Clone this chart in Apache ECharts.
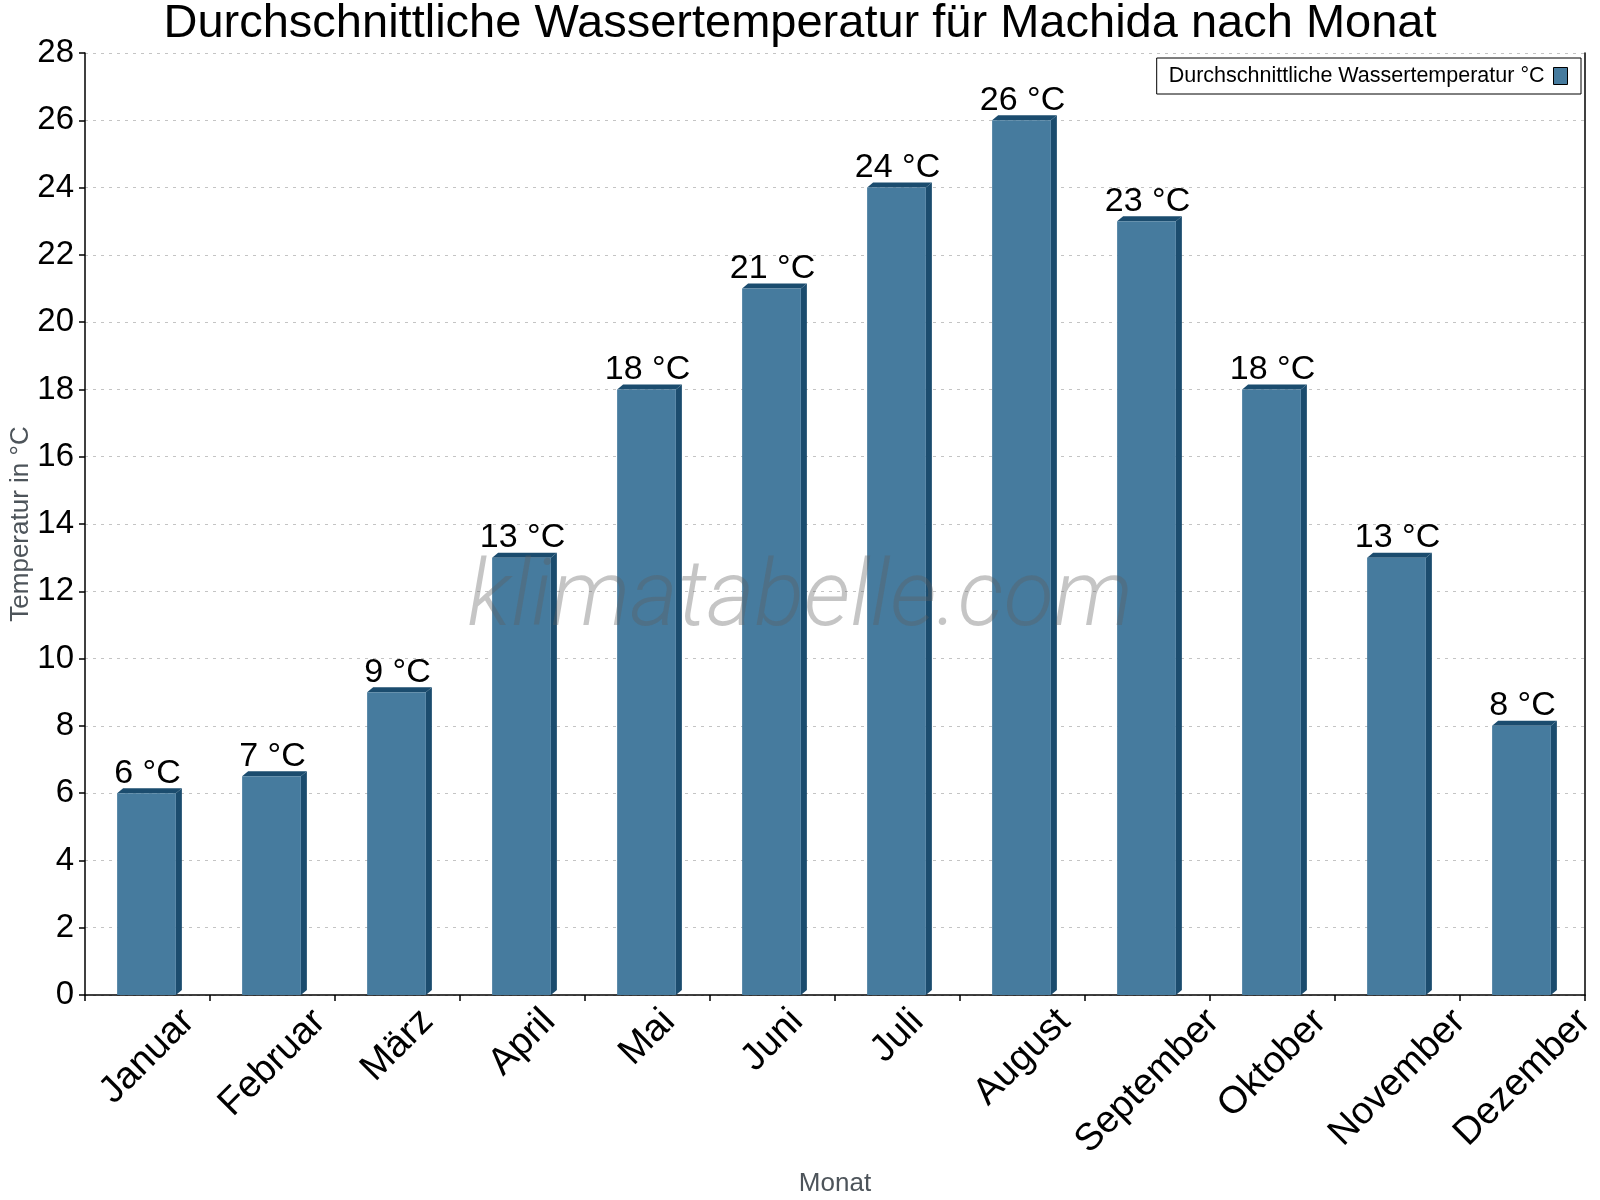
<!DOCTYPE html>
<html>
<head>
<meta charset="utf-8">
<script src="https://cdn.jsdelivr.net/npm/echarts@6/dist/echarts.min.js"></script>
<style>
  html, body { margin: 0; padding: 0; background: #fff; }
  #chart { width: 1600px; height: 1200px; }
</style>
</head>
<body>
<div id="chart"></div>
<script>
// ---------------- Daten ----------------
const months = ['Januar', 'Februar', 'März', 'April', 'Mai', 'Juni', 'Juli', 'August', 'September', 'Oktober', 'November', 'Dezember'];
const waterTemp = [6, 6.5, 9, 13, 18, 21, 24, 26, 23, 18, 13, 8];
const yTicks = { min: 0, max: 28, interval: 2 };

const seriesName = 'Durchschnittliche Wassertemperatur °C';
const frontColor = '#467b9e';
const darkColor = '#1b4c6e';
const labelFont = "'Liberation Sans', Arial, sans-serif";

// schräge Monatsbeschriftung: Mitte unter der Kategorie, Oberkante auf gleicher Höhe
const xLabelSize = 38;
const measureCtx = document.createElement('canvas').getContext('2d');
measureCtx.font = xLabelSize + "px 'Liberation Sans'";
const xLabelRich = {};
months.forEach((m, i) => {
  const w = measureCtx.measureText(m).width;
  const d = 0.707 * (w + xLabelSize * 0.72) / 2 + 1;   // Abstand Anker -> Textmitte
  const p = Math.round(1.414 * d);
  xLabelRich['l' + i] = {
    fontSize: xLabelSize,
    fontFamily: labelFont,
    color: '#000',
    padding: [p, p, 0, 0]
  };
});

const chart = echarts.init(document.getElementById('chart'));

function renderBar(params, api) {
  const idx = api.value(0);
  const val = api.value(1);
  const top = api.coord([idx, val]);
  const base = api.coord([idx, 0]);
  const bw = api.size([1, 0])[0] * 0.47;
  const dx = 6, dy = 5;
  const x0 = top[0] - bw / 2 - 1;
  const x1 = x0 + bw;
  const y0 = top[1];
  const yb = base[1];
  return {
    type: 'group',
    children: [
      {
        type: 'polygon',
        shape: { points: [[x0, y0], [x0 + dx, y0 - dy], [x1 + dx, y0 - dy], [x1, y0]] },
        style: { fill: darkColor }
      },
      {
        type: 'polygon',
        shape: { points: [[x1, y0], [x1 + dx, y0 - dy], [x1 + dx, yb - dy], [x1, yb]] },
        style: { fill: darkColor }
      },
      {
        type: 'rect',
        shape: { x: x0, y: y0, width: bw, height: yb - y0 },
        style: { fill: frontColor }
      },
      {
        type: 'text',
        x: top[0],
        y: y0 - dy + 2,
        style: {
          text: Math.round(val) + ' °C',
          font: "34px 'Liberation Sans', Arial, sans-serif",
          fill: '#000',
          align: 'center',
          verticalAlign: 'bottom'
        }
      }
    ]
  };
}

const option = {
  backgroundColor: '#fff',
  animation: false,
  title: {
    text: 'Durchschnittliche Wassertemperatur für Machida nach Monat',
    left: 'center',
    top: -4,
    textStyle: { fontFamily: labelFont, fontSize: 47, fontWeight: 'normal', color: '#000' }
  },
  legend: {
    right: 19,
    top: 58,
    orient: 'horizontal',
    align: 'right',
    padding: [7, 13, 7, 12],
    borderColor: '#000',
    borderWidth: 1,
    borderRadius: 0,
    backgroundColor: '#fff',
    itemWidth: 14,
    itemHeight: 17,
    itemGap: 10,
    textStyle: { fontFamily: labelFont, fontSize: 21.5, color: '#000', padding: [0, 4, 0, 0] },
    data: [{ name: seriesName, icon: 'rect', itemStyle: { color: frontColor, borderColor: '#000', borderWidth: 1 } }]
  },
  graphic: [{
    type: 'text',
    left: 'center',
    top: 556,
    z: 100,
    style: {
      text: 'klimatabelle.com',
      font: "italic 300 92px Roboto, 'Open Sans', sans-serif",
      fill: 'rgba(95,95,95,0.36)'
    }
  }],
  grid: { left: 85, right: 15, top: 53, bottom: 205, outerBoundsMode: 'none' },
  xAxis: {
    type: 'category',
    data: months,
    boundaryGap: true,
    name: 'Monat',
    nameLocation: 'middle',
    nameGap: 176,
    nameTextStyle: { fontFamily: labelFont, fontSize: 26, color: '#4d545a' },
    axisLine: { show: true, lineStyle: { color: '#000', width: 1.5 } },
    axisTick: { show: true, length: 6, lineStyle: { color: '#000', width: 1.5 } },
    axisLabel: {
      interval: 0,
      rotate: 45,
      margin: 10,
      align: 'center',
      verticalAlign: 'middle',
      formatter: (value, index) => '{l' + index + '|' + value + '}',
      rich: xLabelRich
    },
    splitLine: { show: false }
  },
  yAxis: [
    {
      type: 'value',
      min: yTicks.min,
      max: yTicks.max,
      interval: yTicks.interval,
      name: 'Temperatur in °C',
      nameLocation: 'middle',
      nameGap: 51,
      nameMoveOverlap: false,
      nameTextStyle: { fontFamily: labelFont, fontSize: 26, color: '#4d545a' },
      axisLine: { show: true, lineStyle: { color: '#000', width: 1.5 } },
      axisTick: { show: true, length: 6, lineStyle: { color: '#000', width: 1.5 } },
      axisLabel: { fontFamily: labelFont, fontSize: 33, color: '#000', margin: 11 },
      splitLine: { show: true, lineStyle: { color: '#c4c4c4', type: [3, 5], width: 1 } }
    },
    {
      type: 'value',
      position: 'right',
      min: yTicks.min,
      max: yTicks.max,
      interval: yTicks.interval,
      axisLine: { show: true, lineStyle: { color: '#000', width: 1.5 } },
      axisTick: { show: false },
      axisLabel: { show: false },
      splitLine: { show: false }
    }
  ],
  series: [{
    name: seriesName,
    type: 'custom',
    renderItem: renderBar,
    itemStyle: { color: frontColor },
    encode: { x: 0, y: 1 },
    data: waterTemp.map((v, i) => [i, v]),
    z: 2
  }]
};

chart.setOption(option);
</script>
</body>
</html>
